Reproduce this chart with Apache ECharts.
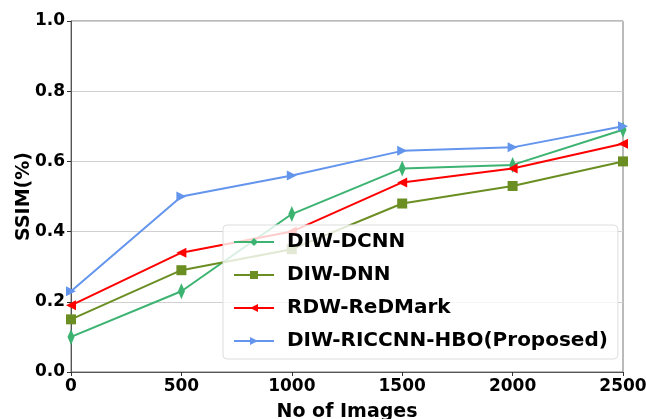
<!DOCTYPE html>
<html>
<head>
<meta charset="utf-8">
<script src="https://cdn.jsdelivr.net/npm/echarts@6/dist/echarts.min.js"></script>
<style>
  html, body { margin: 0; padding: 0; background: #fff; }
  #chart { width: 646px; height: 419px; }
</style>
</head>
<body>
<div id="chart"></div>
<script>
// 数据
var images = [0, 500, 1000, 1500, 2000, 2500];
var dcnn = [0.10, 0.23, 0.45, 0.58, 0.59, 0.69];
var dnn = [0.15, 0.29, 0.35, 0.48, 0.53, 0.60];
var redmark = [0.19, 0.34, 0.40, 0.54, 0.58, 0.65];
var proposed = [0.23, 0.50, 0.56, 0.63, 0.64, 0.70];

function pairs(ys) {
  return images.map(function (x, i) { return [x, ys[i]]; });
}

var font = 'DejaVu Sans';
var diamond = 'path://M0,-10L3,0L0,10L-3,0Z';

function line(name, data, color, symbol, size) {
  return {
    name: name,
    type: 'line',
    data: pairs(data),
    symbol: symbol,
    symbolSize: size,
    showAllSymbol: true,
    lineStyle: { color: color, width: 2 },
    itemStyle: { color: color },
    emphasis: { disabled: true },
  };
}

var option = {
  animation: false,
  textStyle: { fontFamily: font },
  grid: {
    left: 71, right: 23, top: 21, bottom: 47,
    outerBoundsMode: 'none',
    containLabel: false,
    show: true, borderColor: '#777', borderWidth: 1,
  },
  legend: {
    orient: 'vertical',
    left: 223, top: 225,
    padding: [7, 10, 8, 10],
    itemGap: 13,
    itemWidth: 40,
    itemHeight: 10,
    backgroundColor: 'rgba(255,255,255,0.8)',
    borderColor: '#ddd',
    borderWidth: 1,
    borderRadius: 4,
    textStyle: { fontFamily: font, fontWeight: 'bold', fontSize: 20, color: '#000', padding: [0, 0, 0, 8] },
  },
  xAxis: {
    type: 'value',
    min: 0, max: 2500, interval: 500,
    name: 'No of Images',
    nameLocation: 'middle',
    nameGap: 31,
    nameTextStyle: { fontFamily: font, fontWeight: 'bold', fontSize: 19, color: '#000' },
    axisLine: { lineStyle: { color: '#555' } },
    axisTick: { show: true, length: 4, lineStyle: { color: '#333' } },
    axisLabel: {
      fontFamily: font, fontWeight: 'bold', fontSize: 17, color: '#000', margin: 6,
      formatter: function (v) { return String(v); },
    },
    splitLine: { show: false },
  },
  yAxis: {
    type: 'value',
    min: 0, max: 1, interval: 0.2,
    name: 'SSIM(%)',
    nameLocation: 'middle',
    nameGap: 37,
    nameMoveOverlap: false,
    nameTextStyle: { fontFamily: font, fontWeight: 'bold', fontSize: 19, color: '#000' },
    axisLine: { show: true, lineStyle: { color: '#555' } },
    axisTick: { show: true, length: 4, lineStyle: { color: '#333' } },
    axisLabel: {
      fontFamily: font, fontWeight: 'bold', fontSize: 17, color: '#000', margin: 6,
      formatter: function (v) { return v.toFixed(1); },
    },
    splitLine: { show: true, lineStyle: { color: '#d0d0d0', width: 1 } },
  },
  series: [
    line('DIW-DCNN', dcnn, '#3cb371', diamond, [7, 16]),
    line('DIW-DNN', dnn, '#6b8e23', 'rect', 10),
    line('RDW-ReDMark', redmark, '#ff0000', 'triangle', 10),
    line('DIW-RICCNN-HBO(Proposed)', proposed, '#6495ed', 'triangle', 10),
  ],
};
option.series[2].symbolRotate = 90;
option.series[3].symbolRotate = -90;

var chart = echarts.init(document.getElementById('chart'));
chart.setOption(option);
</script>
</body>
</html>
